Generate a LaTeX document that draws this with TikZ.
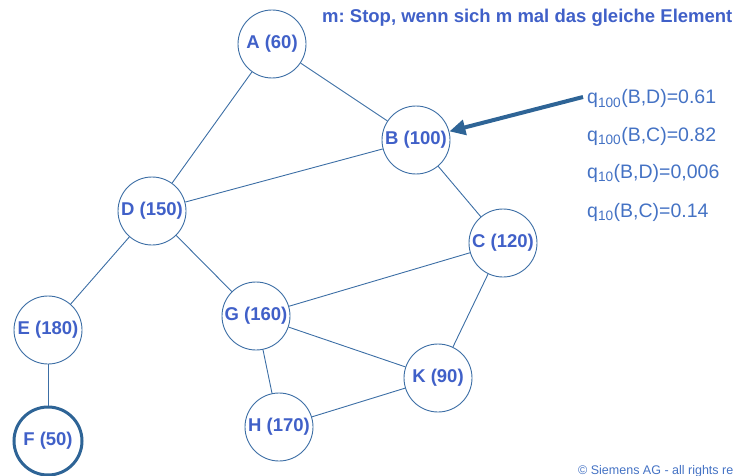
\documentclass[tikz,border=0pt]{standalone}
\usepackage{fontspec}
\setmainfont{Liberation Sans}
\usetikzlibrary{arrows.meta}
\frenchspacing
\definecolor{edgeblue}{RGB}{60,110,165}
\definecolor{textblue}{RGB}{64,96,200}
\definecolor{qblue}{RGB}{68,114,196}
\definecolor{darkblue}{RGB}{46,100,150}
\tikzset{
  vertex/.style={circle,draw=edgeblue,line width=0.9pt,fill=white,minimum size=68pt,inner sep=0pt,
    text=textblue,font=\fontsize{18.5}{21}\selectfont\bfseries},
  startvertex/.style={vertex,draw=darkblue,line width=3pt},
  link/.style={draw=edgeblue,line width=0.9pt},
  qlabel/.style={anchor=base west,text=qblue,font=\fontsize{19.5}{22}\selectfont,inner sep=0pt},
  pointer/.style={draw=darkblue,line width=4pt,-{Triangle[length=16pt,width=15pt]}}
}
\begin{document}
\begin{tikzpicture}[x=1pt,y=-1pt]
\useasboundingbox (0,0) rectangle (733,476);
\clip (0,0) rectangle (733,476);
\node[vertex] (A) at (272,44) {A (60)};
\node[vertex] (B) at (416,140) {B (100)};
\node[vertex] (C) at (503,243) {C (120)};
\node[vertex] (D) at (152,211) {D (150)};
\node[vertex] (E) at (48,330) {E (180)};
\node[startvertex] (F) at (48,441) {F (50)};
\node[vertex] (G) at (256,316) {G (160)};
\node[vertex] (H) at (279,427) {H (170)};
\node[vertex] (K) at (438,378) {K (90)};
\draw[link] (A) -- (B);
\draw[link] (A) -- (D);
\draw[link] (B) -- (D);
\draw[link] (B) -- (C);
\draw[link] (D) -- (E);
\draw[link] (D) -- (G);
\draw[link] (E) -- (F);
\draw[link] (G) -- (C);
\draw[link] (G) -- (K);
\draw[link] (G) -- (H);
\draw[link] (C) -- (K);
\draw[link] (H) -- (K);
\node[anchor=base west,inner sep=0pt,text=textblue,font=\fontsize{18.5}{21}\selectfont\bfseries] (title) at (322,23) {m: Stop, wenn sich m mal das gleiche Element};
\node[qlabel] (q1) at (587,104) {q\textsubscript{100}(B,D)=0.61};
\node[qlabel] (q2) at (587,141) {q\textsubscript{100}(B,C)=0.82};
\node[qlabel] (q3) at (587,178) {q\textsubscript{10}(B,D)=0,006};
\node[qlabel] (q4) at (587,217) {q\textsubscript{10}(B,C)=0.14};
\coordinate (tail) at (583,97);
\draw[pointer] (tail) -- (B);
\node[anchor=base west,inner sep=0pt,text=qblue,font=\fontsize{12.5}{14}\selectfont] (copy) at (578,474) {© Siemens AG - all rights reserved};
\end{tikzpicture}
\end{document}
